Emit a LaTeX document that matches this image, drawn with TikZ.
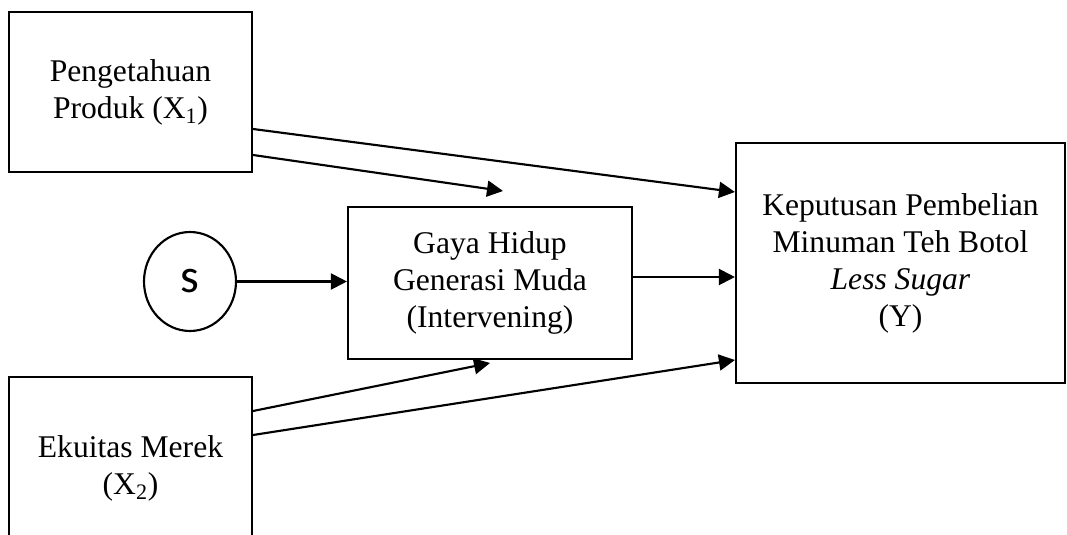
\documentclass[tikz,border=0pt]{standalone}
\usepackage{fontspec}
\setmainfont{Liberation Serif}
\newfontfamily\circfont{Carlito}
\usetikzlibrary{arrows.meta,shapes.geometric}

\begin{document}
\begin{tikzpicture}[x=0.75pt, y=-0.75pt,
    box/.style={rectangle, draw=black, line width=1.6pt, inner sep=0pt,
        align=center, font=\fontsize{23.7}{27.75}\selectfont},
    err/.style={ellipse, draw=black, line width=1.6pt, inner sep=0pt,
        minimum width=69pt, minimum height=74.25pt,
        font=\circfont\fontsize{36}{36}\selectfont},
    edge/.style={line width=1.6pt, -{Triangle[length=12pt,width=12pt]}}
]
    \useasboundingbox (0,0) rectangle (1067,535);
    \clip (0,0) rectangle (1067,535);
    \node[box, minimum width=182.25pt, minimum height=120pt] (prod) at (130.5,92)
        {Pengetahuan\\Produk (X\textsubscript{1})};
    \node[box, minimum width=182.25pt, minimum height=136.5pt] (merek) at (130.5,468)
        {Ekuitas Merek\\(X\textsubscript{2})};
    \node[box, minimum width=213pt, minimum height=114pt] (gaya) at (490,283)
        {Gaya Hidup\\Generasi Muda\\(Intervening)};
    \node[box, minimum width=246.75pt, minimum height=180pt] (kep) at (900.5,263)
        {Keputusan Pembelian\\Minuman Teh Botol\\\textit{Less Sugar}\\(Y)};
    \node[err] (s) at (190,281.5) {s};
    \coordinate (g1) at (503,191);
    \coordinate (g2) at (490,363);
    \draw[edge] (prod.east |- 0,129) -- (kep.west |- 0,192);
    \draw[edge] (prod.east |- 0,155) -- (g1);
    \draw[edge] (s.east) -- (s.east -| gaya.west);
    \draw[edge] (gaya.east |- 0,277) -- (kep.west |- 0,277);
    \draw[edge] (merek.east |- 0,411) -- (g2);
    \draw[edge] (merek.east |- 0,435) -- (kep.west |- 0,360);
\end{tikzpicture}
\end{document}
